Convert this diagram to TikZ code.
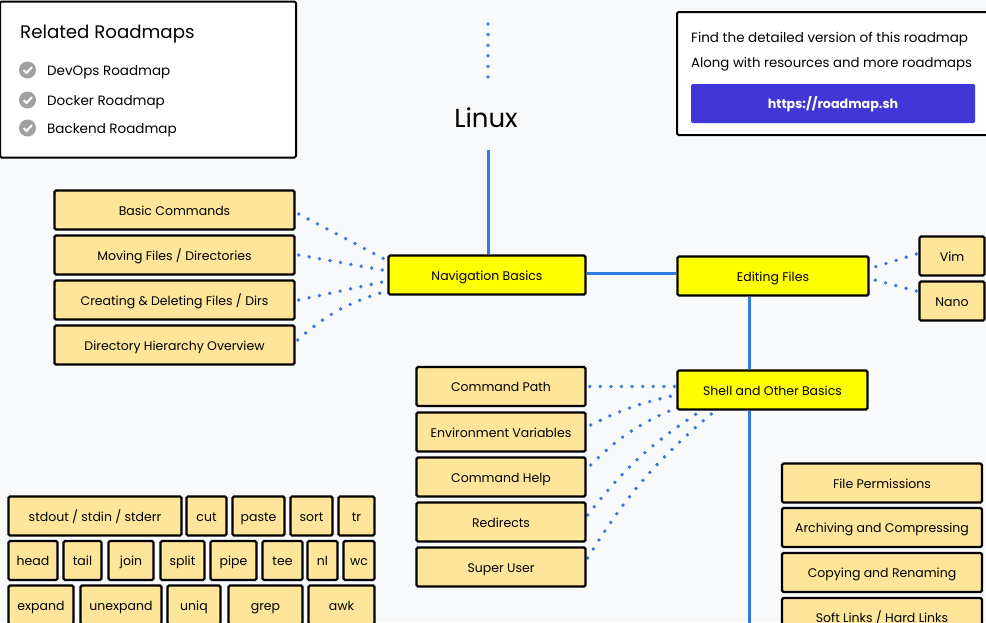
\documentclass[tikz,border=0pt]{standalone}
\usepackage{fontspec}
\setmainfont{Poppins}
\usetikzlibrary{arrows.meta, backgrounds, positioning}
\definecolor{pagebg}{HTML}{F8F9FB}
\definecolor{subfill}{HTML}{FFE599}
\definecolor{topicfill}{HTML}{FFFF00}
\definecolor{linkblue}{HTML}{2F7BE0}
\definecolor{dotblue}{HTML}{3F78D8}
\definecolor{btnblue}{HTML}{4136D6}
\definecolor{tickgray}{HTML}{A0A0A0}
\tikzset{
    panel/.style={draw=black, fill=white, line width=2pt, rounded corners=1.5pt},
    topic/.style={draw=black, fill=topicfill, line width=2.4pt, rounded corners=1.5pt, inner sep=0pt, text height=10pt, text depth=0pt, font=\fontsize{12.5}{14}\selectfont},
    sub/.style={draw=black, fill=subfill, line width=2.4pt, rounded corners=1.5pt, inner sep=0pt, text height=10pt, text depth=0pt, font=\fontsize{12.5}{14}\selectfont},
    trunk/.style={draw=linkblue, line width=3pt},
    dots/.style={draw=dotblue, line width=3.8pt, line cap=round, dash pattern=on 0pt off 10.6pt},
    tick/.style={circle, fill=tickgray, minimum size=17pt, inner sep=0pt},
    tickmark/.style={draw=white, line width=2pt},
    plain/.style={inner sep=0pt, anchor=west, text height=10pt, text depth=0pt, font=\fontsize{13.5}{15}\selectfont}
}
\begin{document}
\begin{tikzpicture}[x=1pt, y=-1pt]
    \useasboundingbox (0, 0) rectangle (986, 622);

    \node[panel, minimum width=296pt, minimum height=156pt] at (148, 79.5) (related) {};
    \node[plain, font=\fontsize{18.2}{20}\selectfont] at (20, 33) (relatedtitle) {Related Roadmaps};
    \node[tick] at (27.5, 70) (tickA) {};
    \node[tick] at (27.5, 100) (tickB) {};
    \node[tick] at (27.5, 128) (tickC) {};
    \draw[tickmark] ([shift={(-4,0)}]tickA.center) -- ([shift={(-1,3)}]tickA.center) -- ([shift={(4.5,-3)}]tickA.center);
    \draw[tickmark] ([shift={(-4,0)}]tickB.center) -- ([shift={(-1,3)}]tickB.center) -- ([shift={(4.5,-3)}]tickB.center);
    \draw[tickmark] ([shift={(-4,0)}]tickC.center) -- ([shift={(-1,3)}]tickC.center) -- ([shift={(4.5,-3)}]tickC.center);
    \node[plain] at (47, 70) (devops) {DevOps Roadmap};
    \node[plain] at (47, 100) (docker) {Docker Roadmap};
    \node[plain] at (47, 128) (backend) {Backend Roadmap};

    \node[panel, minimum width=316pt, minimum height=123pt] at (835, 73.5) (detail) {};
    \node[plain] at (691, 37) (detailA) {Find the detailed version of this roadmap};
    \node[plain, font=\fontsize{13.3}{15}\selectfont] at (691, 62) (detailB) {Along with resources and more roadmaps};
    \node[fill=btnblue, text=white, rounded corners=1.5pt, minimum width=284pt, minimum height=39pt, inner sep=0pt, text height=10pt, text depth=0pt, font=\fontsize{12.7}{15}\selectfont\bfseries] at (833, 103.5) (site) {https://roadmap.sh};

    \node[inner sep=0pt, minimum width=70pt, minimum height=64pt, font=\fontsize{26}{30}\selectfont] at (486, 118) (linux) {Linux};
    \coordinate (dotstop) at (488, 24);
    \coordinate (trunkend) at (749, 630);

    \node[topic, minimum width=197pt, minimum height=39pt] at (487, 275) (nav) {Navigation Basics};
    \node[topic, minimum width=191pt, minimum height=39pt] at (773, 276) (edit) {Editing Files};
    \node[topic, minimum width=190pt, minimum height=39pt] at (772.5, 390) (shell) {Shell and Other Basics};

    \node[sub, minimum width=240pt, minimum height=39pt] at (174.5, 210) (basic) {Basic Commands};
    \node[sub, minimum width=240pt, minimum height=39pt] at (174.5, 255) (moving) {Moving Files / Directories};
    \node[sub, minimum width=240pt, minimum height=39pt] at (174.5, 300) (creating) {Creating \& Deleting Files / Dirs};
    \node[sub, minimum width=240pt, minimum height=39pt] at (174.5, 345) (hierarchy) {Directory Hierarchy Overview};

    \node[sub, minimum width=65pt, minimum height=39pt] at (952, 256) (vim) {Vim};
    \node[sub, minimum width=65pt, minimum height=39pt] at (952, 301) (nano) {Nano};

    \node[sub, minimum width=169pt, minimum height=39pt] at (501, 386.5) (cmdpath) {Command Path};
    \node[sub, minimum width=169pt, minimum height=39pt] at (501, 432) (envvars) {Environment Variables};
    \node[sub, minimum width=169pt, minimum height=39pt] at (501, 477) (cmdhelp) {Command Help};
    \node[sub, minimum width=169pt, minimum height=39pt] at (501, 522) (redirects) {Redirects};
    \node[sub, minimum width=169pt, minimum height=39pt] at (501, 567) (superuser) {Super User};

    \node[sub, minimum width=200pt, minimum height=39pt] at (882, 483) (perms) {File Permissions};
    \node[sub, minimum width=200pt, minimum height=39pt] at (882, 527.5) (archive) {Archiving and Compressing};
    \node[sub, minimum width=200pt, minimum height=39pt] at (882, 572.5) (copying) {Copying and Renaming};
    \node[sub, minimum width=200pt, minimum height=39pt] at (882, 617.5) (links) {Soft Links / Hard Links};

    \node[sub, minimum width=173pt, minimum height=39pt] at (95, 516) (stdout) {stdout / stdin / stderr};
    \node[sub, minimum width=40pt, minimum height=39pt] at (206.5, 516) (cut) {cut};
    \node[sub, minimum width=52pt, minimum height=39pt] at (258.5, 516) (paste) {paste};
    \node[sub, minimum width=42pt, minimum height=39pt] at (311.5, 516) (sort) {sort};
    \node[sub, minimum width=36pt, minimum height=39pt] at (356.5, 516) (tr) {tr};

    \node[sub, minimum width=49pt, minimum height=39pt] at (33, 560.5) (head) {head};
    \node[sub, minimum width=38pt, minimum height=39pt] at (82.5, 560.5) (tail) {tail};
    \node[sub, minimum width=45pt, minimum height=39pt] at (131, 560.5) (join) {join};
    \node[sub, minimum width=44pt, minimum height=39pt] at (182.5, 560.5) (split) {split};
    \node[sub, minimum width=46pt, minimum height=39pt] at (233.5, 560.5) (pipe) {pipe};
    \node[sub, minimum width=40pt, minimum height=39pt] at (282.5, 560.5) (tee) {tee};
    \node[sub, minimum width=30pt, minimum height=39pt] at (322.5, 560.5) (nl) {nl};
    \node[sub, minimum width=31pt, minimum height=39pt] at (359, 560.5) (wc) {wc};

    \node[sub, minimum width=65pt, minimum height=39pt] at (41, 605) (expand) {expand};
    \node[sub, minimum width=81pt, minimum height=39pt] at (121, 605) (unexpand) {unexpand};
    \node[sub, minimum width=53pt, minimum height=39pt] at (194, 605) (uniq) {uniq};
    \node[sub, minimum width=74pt, minimum height=39pt] at (265.5, 605) (grep) {grep};
    \node[sub, minimum width=66pt, minimum height=39pt] at (341.5, 605) (awk) {awk};

    \pgfdeclarelayer{bg}
    \pgfsetlayers{bg,main}
    \begin{pgfonlayer}{bg}
        \fill[pagebg] (0, 0) rectangle (986, 622);

        \draw[dots] (dotstop) -- ([xshift=2pt, yshift=6pt]linux.north);
        \draw[trunk] ([xshift=2pt]linux.south) -- ([xshift=1pt]nav.north);
        \draw[trunk] ([yshift=2pt]nav.east) -- ([yshift=3pt]edit.west);
        \draw[trunk] ([xshift=-24pt]edit.south) -- ([xshift=-23.5pt]shell.north);
        \draw[trunk] ([xshift=-23.5pt]shell.south) -- (trunkend);

        \draw[dots] ([xshift=3pt, yshift=-4pt]basic.east) -- ([xshift=-3pt, yshift=16pt]nav.west);
        \draw[dots] ([xshift=3pt]moving.east) -- ([xshift=-5pt, yshift=5pt]nav.west);
        \draw[dots] ([xshift=3pt]creating.east) -- ([xshift=-5pt, yshift=-7pt]nav.west);
        \draw[dots] ([xshift=2pt, yshift=5pt]hierarchy.east) to[bend left=12] ([xshift=-7pt, yshift=-18pt]nav.west);

        \draw[dots] ([xshift=-2pt, yshift=2pt]vim.west) -- ([xshift=5pt, yshift=9pt]edit.east);
        \draw[dots] ([xshift=-2pt, yshift=10pt]nano.west) -- ([xshift=5pt, yshift=-4pt]edit.east);

        \draw[dots] ([xshift=3pt]cmdpath.east) -- ([yshift=3.5pt]shell.west);
        \draw[dots] ([xshift=4pt, yshift=7pt]envvars.east) to[bend left=7] ([yshift=-5pt]shell.west);
        \draw[dots] ([xshift=4pt, yshift=12pt]cmdhelp.east) to[bend left=11] ([yshift=-18pt]shell.west);
        \draw[dots] ([xshift=1pt, yshift=7pt]redirects.east) to[bend left=9] ([xshift=-76pt, yshift=-3pt]shell.south);
        \draw[dots] ([xshift=1pt, yshift=9pt]superuser.east) to[bend left=9] ([xshift=-61pt, yshift=-3pt]shell.south);
    \end{pgfonlayer}
\end{tikzpicture}
\end{document}
